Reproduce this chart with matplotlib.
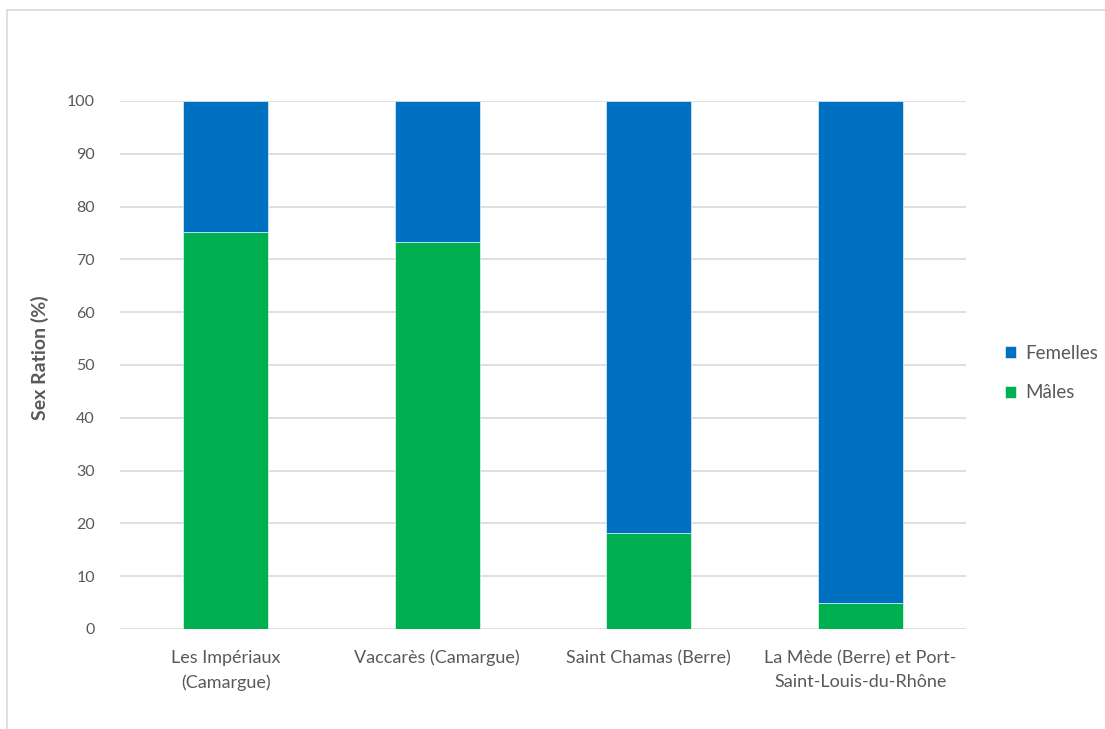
import matplotlib
matplotlib.use("Agg")
import matplotlib.pyplot as plt
from matplotlib.patches import Rectangle
import numpy as np

categories = ["Les Impériaux\n(Camargue)", "Vaccarès (Camargue)", "Saint Chamas (Berre)",
              "La Mède (Berre) et Port-\nSaint-Louis-du-Rhône"]
males = [75.2, 73.3, 18.2, 4.9]
females = [24.8, 26.7, 81.8, 95.1]
yticks = list(range(0, 101, 10))

green = "#00B050"
blue = "#0070C0"
text_col = "#595959"
grid_col = "#D9D9D9"

plt.rcParams['font.family'] = ['Lato', 'DejaVu Sans']

W, H = 1105, 729
fig = plt.figure(figsize=(W / 100, H / 100), dpi=100)

# chart area frame
fig.patches.append(Rectangle((7 / W, -0.1), 1.2, 1 - 10 / H + 0.1, transform=fig.transFigure,
                             fill=False, edgecolor=grid_col, linewidth=1.2))

ax = fig.add_axes([120 / W, 1 - 629 / H, (966 - 120) / W, (629 - 101) / H])
x = np.arange(len(categories))
ax.bar(x, males, width=0.4, color=green, edgecolor="white", linewidth=0.4, label="Mâles", zorder=3)
ax.bar(x, females, width=0.4, bottom=males, color=blue, edgecolor="white", linewidth=0.4,
       label="Femelles", zorder=3)

ax.set_xlim(-0.5, len(categories) - 0.5)
ax.set_ylim(0, 100)
ax.set_yticks(yticks)
ax.yaxis.grid(True, color=grid_col, linewidth=1.2, zorder=0)
ax.set_axisbelow(True)
for s in ax.spines.values():
    s.set_visible(False)
ax.tick_params(axis="both", length=0, colors=text_col)
ax.tick_params(axis="y", pad=18, labelsize=11.5)
ax.tick_params(axis="x", pad=15, labelsize=13)
ax.set_xticks(x)
ax.set_xticklabels(categories, linespacing=1.65)
ax.set_ylabel("Sex Ration (%)", fontsize=14, fontweight="bold", color=text_col)
ax.yaxis.set_label_coords(40 / W, 0.5, transform=fig.transFigure)
ax.yaxis.label.set_verticalalignment("center")
ax.yaxis.label.set_y((729 - 358) / H)

handles, labels = ax.get_legend_handles_labels()
ax.legend(handles[::-1], labels[::-1], loc="center left", bbox_to_anchor=(988 / W, (729 - 373) / H),
          bbox_transform=fig.transFigure, frameon=False, fontsize=13.5, labelcolor=text_col,
          handlelength=0.6, handleheight=0.6, handletextpad=0.5, labelspacing=1.2)

fig.savefig("out.png", dpi=100, facecolor="white")
